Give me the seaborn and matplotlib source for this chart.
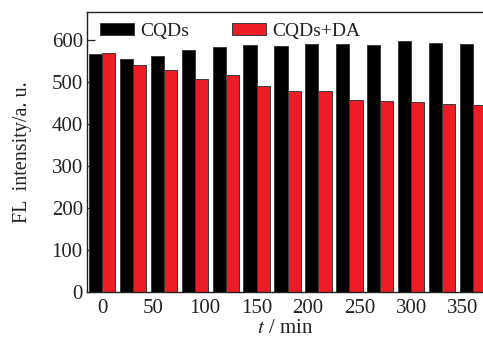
import matplotlib
matplotlib.use("Agg")
import matplotlib.pyplot as plt
import seaborn as sns
import pandas as pd
from matplotlib.patches import Patch

times = [0, 30, 60, 90, 120, 150, 180, 210, 240, 270, 300, 330, 360]
cqds = [568, 554, 563, 576, 583, 589, 586, 590, 591, 588, 599, 594, 592]
cqds_da = [570, 540, 528, 508, 516, 490, 479, 478, 457, 456, 452, 447, 446]
series_names = ["CQDs", "CQDs+DA"]
x_ticks = [0, 50, 100, 150, 200, 250, 300, 350]
y_ticks = [0, 100, 200, 300, 400, 500, 600]

df = pd.DataFrame({
    "t": times + times,
    "val": cqds + cqds_da,
    "series": [series_names[0]] * len(times) + [series_names[1]] * len(times),
})

sns.set_style("ticks")
plt.rcParams["font.family"] = ["Liberation Serif", "DejaVu Serif"]
plt.rcParams["mathtext.fontset"] = "stix"

colors = ["#000000", "#ee1c25"]
fig = plt.figure(figsize=(4.83, 3.44), dpi=100)
ax = fig.add_axes([0.180, 0.151, 0.822, 0.814])

sns.barplot(data=df, x="t", y="val", hue="series", native_scale=True,
            palette=colors, saturation=1, width=0.85, edgecolor="#3a3a3a",
            linewidth=0.7, ax=ax, legend=False)

ax.set_xlim(-14.6, 370.5)
ax.set_ylim(0, 667)
ax.set_xticks(x_ticks)
ax.set_xticklabels([str(v) for v in x_ticks])
ax.set_yticks(y_ticks)
ax.tick_params(axis="both", direction="in", labelsize=15, length=6, width=0.9, colors="#222222")
ax.tick_params(axis="x", length=0, pad=5)
ax.tick_params(axis="y", pad=3)
for s in ["left", "bottom", "top"]:
    ax.spines[s].set_visible(True)
    ax.spines[s].set_linewidth(1.0)
    ax.spines[s].set_color("#222222")
ax.spines["right"].set_visible(False)

ax.set_xlabel(r"$t$ / min", fontsize=15, color="#222222", labelpad=1)
ax.set_ylabel("FL  intensity/a. u.", fontsize=14.5, color="#222222", labelpad=14)

handles = [Patch(facecolor=c, edgecolor="#3a3a3a", linewidth=0.7) for c in colors]
leg = ax.legend(handles, series_names, ncol=2, frameon=False, loc="upper left",
                bbox_to_anchor=(-0.01, 1.025), fontsize=14, handlelength=1.75,
                handleheight=0.6, columnspacing=2.2, handletextpad=0.3)
for t in leg.get_texts():
    t.set_color("#222222")

fig.savefig("out.png", dpi=100)
